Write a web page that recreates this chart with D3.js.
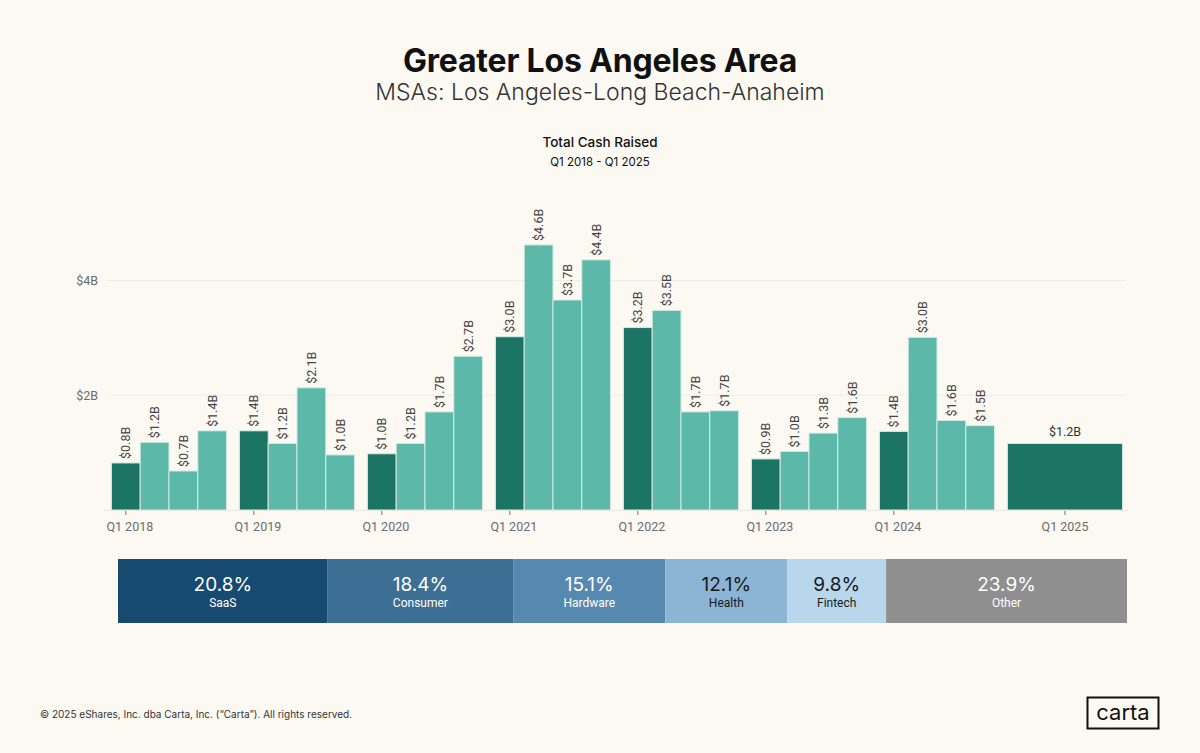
<!DOCTYPE html>
<html>
<head>
<meta charset="utf-8">
<script src="https://cdn.jsdelivr.net/npm/d3@7"></script>
<style>
  html, body { margin: 0; padding: 0; background: #fcf9f3; }
  svg { display: block; }
</style>
</head>
<body>
<div id="chart"></div>
<script>
// cash raised per quarter, $B
var years    = ["2018", "2019", "2020", "2021", "2022", "2023", "2024", "2025"];
var quarters = ["Q1", "Q2", "Q3", "Q4"];
var cash = {
  "2018": [0.82, 1.18, 0.68, 1.38],
  "2019": [1.38, 1.16, 2.13, 0.96],
  "2020": [0.98, 1.16, 1.71, 2.68],
  "2021": [3.02, 4.62, 3.66, 4.36],
  "2022": [3.18, 3.48, 1.71, 1.73],
  "2023": [0.89, 1.02, 1.34, 1.61],
  "2024": [1.37, 3.01, 1.56, 1.47],
  "2025": [1.16]
};
var y_ticks = [2, 4];

// sector share of cash raised
var sectors      = ["SaaS", "Consumer", "Hardware", "Health", "Fintech", "Other"];
var sector_share = [20.8, 18.4, 15.1, 12.1, 9.8, 23.9];
var sector_fill  = ["#164a71", "#3d6f94", "#5789b0", "#8cb4d4", "#b9d7ec", "#8f8f8f"];
var sector_text  = ["#ffffff", "#ffffff", "#ffffff", "#1a1a1a", "#1a1a1a", "#ffffff"];

var width  = 1200;
var height = 753;

var svg = d3.select("#chart").append("svg")
  .attr("width", width)
  .attr("height", height);

svg.append("rect")
  .attr("width", width)
  .attr("height", height)
  .attr("fill", "#fcf9f3");

// titles
svg.append("text")
  .attr("x", 600).attr("y", 72)
  .attr("text-anchor", "middle")
  .style("font-family", "Inter, 'Open Sans', sans-serif")
  .style("font-weight", 700)
  .style("font-size", "32px")
  .style("letter-spacing", "-0.2px")
  .attr("fill", "#111")
  .text("Greater Los Angeles Area");

svg.append("text")
  .attr("x", 600).attr("y", 100)
  .attr("text-anchor", "middle")
  .style("font-family", "Inter, 'Open Sans', sans-serif")
  .style("font-weight", 300)
  .style("font-size", "23px")
  .attr("fill", "#333")
  .text("MSAs: Los Angeles-Long Beach-Anaheim");

svg.append("text")
  .attr("x", 600).attr("y", 147)
  .attr("text-anchor", "middle")
  .style("font-family", "Inter, 'Open Sans', sans-serif")
  .style("font-weight", 500)
  .style("font-size", "13.5px")
  .attr("fill", "#111")
  .text("Total Cash Raised");

svg.append("text")
  .attr("x", 600).attr("y", 166)
  .attr("text-anchor", "middle")
  .style("font-family", "Inter, 'Open Sans', sans-serif")
  .style("font-weight", 400)
  .style("font-size", "11.5px")
  .attr("fill", "#111")
  .text("Q1 2018 - Q1 2025");

// scales
var scalex = d3.scaleBand()
  .domain(years)
  .range([105, 1129])
  .paddingInner(0.1)
  .paddingOuter(0.05);

var scaley = d3.scaleLinear()
  .domain([0, 4])
  .range([510, 280.5]);

var fmt = d3.format(".1f");

// grid
svg.selectAll("line.grid")
  .data(y_ticks)
  .enter()
  .append("line")
  .attr("class", "grid")
  .attr("x1", 108)
  .attr("x2", 1126)
  .attr("y1", function (d) { return scaley(d); })
  .attr("y2", function (d) { return scaley(d); })
  .attr("stroke", "#f1ede4")
  .attr("stroke-width", 1);

var y_axis = d3.axisLeft(scaley)
  .tickValues(y_ticks)
  .tickSize(0)
  .tickPadding(0)
  .tickFormat(function (d) { return "$" + d + "B"; });

var gy = svg.append("g")
  .attr("class", "y_axis")
  .attr("transform", "translate(98, 0)")
  .call(y_axis);
gy.select(".domain").remove();
gy.selectAll("text")
  .style("font-family", "Roboto, sans-serif")
  .style("font-size", "12.5px")
  .attr("fill", "#6b6b6b");

// bars
var bars = [];
years.forEach(function (yr) {
  var inner = d3.scaleBand()
    .domain(quarters.slice(0, cash[yr].length))
    .range([scalex(yr), scalex(yr) + scalex.bandwidth()]);
  cash[yr].forEach(function (v, i) {
    bars.push({ year: yr, q: quarters[i], value: v, x: inner(quarters[i]), w: inner.bandwidth(), single: cash[yr].length == 1 });
  });
});

var g = svg.append("g").attr("class", "bars");

g.selectAll("rect")
  .data(bars)
  .enter()
  .append("rect")
  .attr("x", function (d) { return d.x; })
  .attr("y", function (d) { return scaley(d.value); })
  .attr("width", function (d) { return d.w; })
  .attr("height", function (d) { return scaley(0) - scaley(d.value); })
  .attr("fill", function (d) { return d.q == "Q1" ? "#1b7464" : "#5cb8a8"; })
  .attr("stroke", "#d4ece5")
  .attr("stroke-width", 1);

// baseline
svg.append("line")
  .attr("x1", 104).attr("x2", 1128)
  .attr("y1", scaley(0) + 0.5).attr("y2", scaley(0) + 0.5)
  .attr("stroke", "#ebe7de")
  .attr("stroke-width", 1);

// value labels
g.selectAll("text.rot")
  .data(bars.filter(function (d) { return !d.single; }))
  .enter()
  .append("text")
  .attr("class", "rot")
  .attr("transform", function (d) { return "translate(" + (d.x + d.w / 2) + "," + (scaley(d.value) - 4) + ") rotate(-90)"; })
  .attr("dy", "0.35em")
  .attr("text-anchor", "start")
  .style("font-family", "Roboto, sans-serif")
  .style("font-size", "12.5px")
  .attr("fill", "#444")
  .text(function (d) { return "$" + fmt(d.value) + "B"; });

g.selectAll("text.flat")
  .data(bars.filter(function (d) { return d.single; }))
  .enter()
  .append("text")
  .attr("class", "flat")
  .attr("x", function (d) { return d.x + d.w / 2; })
  .attr("y", function (d) { return scaley(d.value) - 7; })
  .attr("text-anchor", "middle")
  .style("font-family", "Roboto, sans-serif")
  .style("font-size", "12.5px")
  .attr("fill", "#333")
  .text(function (d) { return "$" + fmt(d.value) + "B"; });

// x ticks at first bar of each year
var firsts = bars.filter(function (d) { return d.q == "Q1"; });

svg.selectAll("line.xtick")
  .data(firsts)
  .enter()
  .append("line")
  .attr("class", "xtick")
  .attr("x1", function (d) { return d.x + d.w / 2; })
  .attr("x2", function (d) { return d.x + d.w / 2; })
  .attr("y1", scaley(0) + 1)
  .attr("y2", scaley(0) + 5)
  .attr("stroke", "#3b8a7c")
  .attr("stroke-width", 1);

svg.selectAll("text.xlab")
  .data(firsts)
  .enter()
  .append("text")
  .attr("class", "xlab")
  .attr("x", function (d) { return d.x + d.w / 2 + (d.single ? 0 : 4); })
  .attr("y", 531)
  .attr("text-anchor", "middle")
  .style("font-family", "Roboto, sans-serif")
  .style("font-size", "12.5px")
  .attr("fill", "#6b6b6b")
  .text(function (d) { return "Q1 " + d.year; });

// sector breakdown strip
var total = d3.sum(sector_share);
var sx = d3.scaleLinear().domain([0, total]).range([118, 1127]);
var cum = 0;
var segs = sector_share.map(function (v, i) {
  var s = { name: sectors[i], value: v, start: cum, fill: sector_fill[i], text: sector_text[i] };
  cum += v;
  return s;
});

var strip = svg.append("g").attr("class", "strip");

strip.selectAll("rect")
  .data(segs)
  .enter()
  .append("rect")
  .attr("x", function (d) { return sx(d.start); })
  .attr("y", 559)
  .attr("width", function (d) { return sx(d.start + d.value) - sx(d.start); })
  .attr("height", 64)
  .attr("fill", function (d) { return d.fill; });

strip.selectAll("text.pct")
  .data(segs)
  .enter()
  .append("text")
  .attr("class", "pct")
  .attr("x", function (d) { return sx(d.start + d.value / 2); })
  .attr("y", 591)
  .attr("text-anchor", "middle")
  .style("font-family", "Inter, 'Open Sans', sans-serif")
  .style("font-weight", 400)
  .style("font-size", "19px")
  .attr("fill", function (d) { return d.text; })
  .text(function (d) { return fmt(d.value) + "%"; });

strip.selectAll("text.name")
  .data(segs)
  .enter()
  .append("text")
  .attr("class", "name")
  .attr("x", function (d) { return sx(d.start + d.value / 2); })
  .attr("y", 607)
  .attr("text-anchor", "middle")
  .style("font-family", "Roboto, sans-serif")
  .style("font-size", "12px")
  .attr("fill", function (d) { return d.text; })
  .text(function (d) { return d.name; });

// footer
svg.append("text")
  .attr("x", 40).attr("y", 718)
  .style("font-family", "Inter, 'Open Sans', sans-serif")
  .style("font-size", "10px")
  .attr("fill", "#333")
  .text("\u00a9 2025 eShares, Inc. dba Carta, Inc. (\u201cCarta\u201d). All rights reserved.");

svg.append("rect")
  .attr("x", 1087.5).attr("y", 697.5)
  .attr("width", 71).attr("height", 31)
  .attr("fill", "none")
  .attr("stroke", "#111")
  .attr("stroke-width", 2);

svg.append("text")
  .attr("x", 1123).attr("y", 720)
  .attr("text-anchor", "middle")
  .style("font-family", "Inter, 'Open Sans', sans-serif")
  .style("font-weight", 400)
  .style("font-size", "22px")
  .attr("fill", "#111")
  .text("carta");
</script>
</body>
</html>
